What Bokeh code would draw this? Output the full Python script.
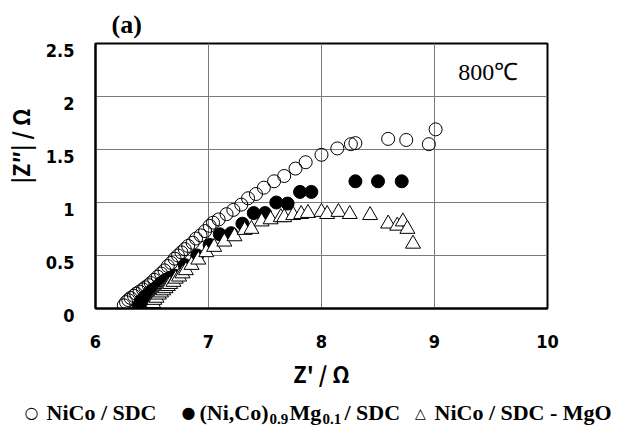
from bokeh.plotting import figure
from bokeh.layouts import column
from bokeh.models import FixedTicker, Range1d, Label
from bokeh.core.properties import value
from bokeh.embed import file_html
from bokeh.resources import INLINE

# ---- data ----
open_x = [6.25, 6.27, 6.29, 6.31, 6.34, 6.36, 6.39, 6.42, 6.44, 6.47, 6.49, 6.52, 6.55, 6.58,
          6.61, 6.64, 6.67, 6.70, 6.73, 6.76, 6.79, 6.82, 6.86, 6.89, 6.93, 6.97, 7.01, 7.04,
          7.09, 7.16, 7.22, 7.29, 7.35, 7.42, 7.49, 7.58, 7.67, 7.77, 7.86, 8.00, 8.14, 8.26,
          8.30, 8.59, 8.75, 8.95, 9.01]
open_y = [0.03, 0.06, 0.08, 0.10, 0.12, 0.14, 0.16, 0.18, 0.20, 0.22, 0.24, 0.27, 0.30, 0.33,
          0.36, 0.40, 0.43, 0.47, 0.50, 0.53, 0.56, 0.59, 0.62, 0.66, 0.69, 0.73, 0.78, 0.81,
          0.84, 0.89, 0.93, 0.98, 1.04, 1.08, 1.14, 1.20, 1.25, 1.32, 1.38, 1.45, 1.51, 1.55,
          1.56, 1.60, 1.59, 1.55, 1.69]

filled_x = [6.38, 6.39, 6.41, 6.44, 6.46, 6.49, 6.51, 6.55, 6.58, 6.62, 6.66, 6.70, 6.79, 6.90,
            7.01, 7.10, 7.20, 7.30, 7.40, 7.50, 7.60, 7.70, 7.81, 7.91, 8.30, 8.50, 8.71]
filled_y = [0.00, 0.04, 0.08, 0.11, 0.13, 0.16, 0.18, 0.21, 0.24, 0.27, 0.29, 0.31, 0.41, 0.50,
            0.60, 0.70, 0.71, 0.80, 0.90, 0.90, 1.00, 0.99, 1.10, 1.10, 1.20, 1.20, 1.20]

tri_x = [6.50, 6.51, 6.52, 6.54, 6.56, 6.58, 6.60, 6.62, 6.64, 6.66, 6.69, 6.71, 6.74, 6.77,
         6.80, 6.85, 6.91, 6.98, 7.05, 7.14, 7.23, 7.32, 7.38, 7.47, 7.55, 7.64, 7.67, 7.75,
         7.82, 7.88, 8.00, 8.05, 8.15, 8.25, 8.43, 8.59, 8.67, 8.72, 8.76, 8.81]
tri_y = [0.02, 0.05, 0.08, 0.10, 0.13, 0.15, 0.17, 0.19, 0.21, 0.23, 0.25, 0.28, 0.30, 0.33,
         0.36, 0.41, 0.46, 0.53, 0.58, 0.63, 0.68, 0.74, 0.75, 0.82, 0.84, 0.86, 0.86, 0.88,
         0.89, 0.90, 0.91, 0.89, 0.91, 0.89, 0.88, 0.80, 0.78, 0.82, 0.75, 0.61]

x_ticks = [6, 7, 8, 9, 10]
y_ticks = [0, 0.5, 1, 1.5, 2, 2.5]
y_tick_text = ["0", "0.5", "1", "1.5", "2", "2.5"]

legend_symbols = ["○", "●", "△"]
legend_names = ["NiCo / SDC", "(Ni,Co)", "Mg", "/ SDC", "NiCo / SDC - MgO"]
legend_subs = ["0.9", "0.1"]

# ---- main figure ----
W = 617
H_MAIN, H_LEG = 392, 34

p = figure(width=W, height=H_MAIN, output_backend="svg", toolbar_location=None,
           x_range=Range1d(6, 10), y_range=Range1d(0, 2.5),
           min_border_left=94, min_border_right=70, min_border_top=43, min_border_bottom=84,
           title="(a)")
p.title.text_font = "Liberation Serif"
p.title.text_font_style = "bold"
p.title.text_font_size = "26px"
p.title.text_color = "black"
p.title.offset = 16
p.title.standoff = 9

p.xaxis.ticker = FixedTicker(ticks=x_ticks)
p.yaxis.ticker = FixedTicker(ticks=y_ticks)
# a blank first line drops each y tick label slightly below its gridline, as in the original
p.yaxis.major_label_overrides = {v: "\n" + t for v, t in zip(y_ticks, y_tick_text)}
p.yaxis.major_label_text_line_height = 0.7
for ax in (p.xaxis, p.yaxis):
    ax.major_tick_out = 0
    ax.major_tick_in = 0
    ax.minor_tick_out = 0
    ax.minor_tick_in = 0
    ax.axis_line_color = "black"
    ax.axis_line_width = 2
    ax.major_label_text_font = "DejaVu Sans Condensed"
    ax.major_label_text_font_style = "bold"
    ax.major_label_text_font_size = "18px"
    ax.major_label_text_color = "black"
    ax.axis_label_text_font = "Noto Sans CJK JP"
    ax.axis_label_text_font_style = "bold"
    ax.axis_label_text_font_size = "22px"
    ax.axis_label_text_color = "black"

p.xaxis.axis_label = "Z' / Ω"
p.xaxis.major_label_standoff = 26
p.xaxis.axis_label_standoff = 6
p.yaxis.axis_label = "\u00a0" * 12 + "|Z″| / Ω"
p.yaxis.major_label_standoff = 21
p.yaxis.axis_label_standoff = 7

p.xgrid.ticker = FixedTicker(ticks=x_ticks)
p.ygrid.ticker = FixedTicker(ticks=y_ticks)
p.grid.grid_line_color = "#7a7a7a"
p.grid.grid_line_width = 1
p.outline_line_color = "black"
p.outline_line_width = 2

p.scatter(open_x, open_y, marker="circle", size=13, fill_color=None,
          line_color="black", line_width=1)
p.scatter(filled_x, filled_y, marker="circle", size=13, fill_color="black",
          line_color="black", line_width=1)
p.scatter(tri_x, tri_y, marker="triangle", size=15, fill_color="white",
          line_color="black", line_width=1)

p.add_layout(Label(x=9.21, y=2.23, text="800℃", text_font="Liberation Serif",
                   text_font_size="24px", text_color="black", text_align="left",
                   text_baseline="middle"))

# ---- legend strip (pixel coordinates) ----
lg = figure(width=W, height=H_LEG, output_backend="svg", toolbar_location=None,
            x_range=Range1d(0, W), y_range=Range1d(H_LEG, 0),
            min_border=0, min_border_left=0, min_border_right=0,
            min_border_top=0, min_border_bottom=0)
lg.frame_align = False
lg.axis.visible = False
lg.grid.visible = False
lg.outline_line_color = None

ymid = 20
sym_x = [31, 188, 420]
name_x = [46, 199, 289, 344, 434]
sub_x = [269, 322]
lg.text(x=sym_x[:2], y=[ymid, ymid], text=legend_symbols[:2], text_font=value("DejaVu Sans"),
        text_font_size="16px", text_align="center", text_baseline="middle", text_color="black")
lg.text(x=sym_x[2:], y=[ymid], text=legend_symbols[2:], text_font=value("DejaVu Sans"),
        text_font_size="14px", text_align="center", text_baseline="middle", text_color="black")
lg.text(x=name_x, y=[ymid] * 5, text=legend_names,
        text_font=value("Liberation Serif"), text_font_style="bold", text_font_size="22px",
        text_align="left", text_baseline="middle", text_color="black")
lg.text(x=sub_x, y=[ymid + 6, ymid + 6], text=legend_subs,
        text_font=value("Liberation Serif"), text_font_style="bold", text_font_size="15px",
        text_align="left", text_baseline="middle", text_color="black")

layout = column(p, lg, spacing=0)
open("out.html", "w").write(file_html(layout, INLINE))
